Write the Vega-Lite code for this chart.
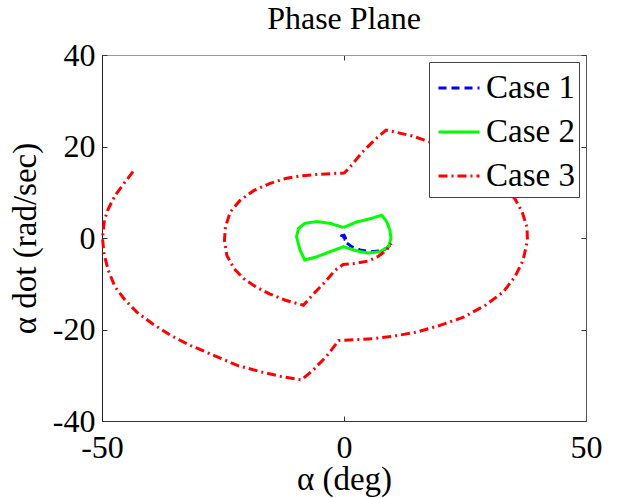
{
  "$schema": "https://vega.github.io/schema/vega-lite/v6.json",
  "width": 484,
  "height": 366,
  "autosize": {"type": "none"},
  "padding": {"left": 102, "top": 55, "right": 35, "bottom": 77},
  "background": "white",
  "title": {"text": "Phase Plane", "font": "Liberation Serif", "fontSize": 32, "fontWeight": "normal", "color": "black", "anchor": "middle", "baseline": "alphabetic", "offset": 0, "dy": 22},
  "config": {
    "view": {"stroke": null},
    "axis": {"grid": false, "labelFont": "Liberation Serif", "labelFontSize": 32, "labelColor": "black", "titleFont": "Liberation Serif", "titleFontSize": 33, "titleFontWeight": "normal", "titleColor": "black", "tickSize": -5, "tickColor": "#333", "labelFlush": false, "labelOverlap": false, "labelExpr": "replace(datum.label, '−', '-')"}
  },
  "data": {"values": [
    {"case": "Case 1", "o": 1, "x": 9.5, "y": -1.5},
    {"case": "Case 1", "o": 2, "x": 8.8, "y": -2.3},
    {"case": "Case 1", "o": 3, "x": 7.4, "y": -2.8},
    {"case": "Case 1", "o": 4, "x": 5.4, "y": -3.0},
    {"case": "Case 1", "o": 5, "x": 3.3, "y": -2.6},
    {"case": "Case 1", "o": 6, "x": 1.6, "y": -1.9},
    {"case": "Case 1", "o": 7, "x": 0.2, "y": -0.8},
    {"case": "Case 1", "o": 8, "x": 0.3, "y": 0.0},
    {"case": "Case 1", "o": 9, "x": 0.0, "y": 0.6},
    {"case": "Case 1", "o": 10, "x": -0.5, "y": 0.5},
    {"case": "Case 1", "o": 11, "x": -0.7, "y": 0.0},
    {"case": "Case 1", "o": 12, "x": -0.4, "y": -0.4},
    {"case": "Case 1", "o": 13, "x": 0.0, "y": -0.3},
    {"case": "Case 1", "o": 14, "x": 0.1, "y": 0.1},
    {"case": "Case 1", "o": 15, "x": -0.2, "y": 0.3},

    {"case": "Case 2", "o": 1, "x": -0.1, "y": 2.3},
    {"case": "Case 2", "o": 2, "x": 2.6, "y": 3.5},
    {"case": "Case 2", "o": 3, "x": 5.4, "y": 4.2},
    {"case": "Case 2", "o": 4, "x": 7.8, "y": 5.0},
    {"case": "Case 2", "o": 5, "x": 8.8, "y": 3.6},
    {"case": "Case 2", "o": 6, "x": 9.5, "y": 1.7},
    {"case": "Case 2", "o": 7, "x": 9.7, "y": -0.1},
    {"case": "Case 2", "o": 8, "x": 9.2, "y": -1.9},
    {"case": "Case 2", "o": 9, "x": 7.4, "y": -3.0},
    {"case": "Case 2", "o": 10, "x": 5.0, "y": -3.3},
    {"case": "Case 2", "o": 11, "x": 2.6, "y": -2.8},
    {"case": "Case 2", "o": 12, "x": -0.1, "y": -1.9},
    {"case": "Case 2", "o": 13, "x": -2.9, "y": -3.0},
    {"case": "Case 2", "o": 14, "x": -5.6, "y": -4.1},
    {"case": "Case 2", "o": 15, "x": -8.1, "y": -4.8},
    {"case": "Case 2", "o": 16, "x": -9.1, "y": -2.6},
    {"case": "Case 2", "o": 17, "x": -9.8, "y": 0.3},
    {"case": "Case 2", "o": 18, "x": -9.4, "y": 2.1},
    {"case": "Case 2", "o": 19, "x": -8.1, "y": 3.2},
    {"case": "Case 2", "o": 20, "x": -5.6, "y": 3.6},
    {"case": "Case 2", "o": 21, "x": -2.9, "y": 3.2},
    {"case": "Case 2", "o": 22, "x": -0.1, "y": 2.3},

    {"case": "Case 3", "o": 1, "x": -43.6, "y": 14.5},
    {"case": "Case 3", "o": 2, "x": -45.2, "y": 12.3},
    {"case": "Case 3", "o": 3, "x": -47.3, "y": 9.3},
    {"case": "Case 3", "o": 4, "x": -48.7, "y": 6.4},
    {"case": "Case 3", "o": 5, "x": -49.5, "y": 3.9},
    {"case": "Case 3", "o": 6, "x": -49.9, "y": 0.0},
    {"case": "Case 3", "o": 7, "x": -49.6, "y": -3.4},
    {"case": "Case 3", "o": 8, "x": -48.7, "y": -7.1},
    {"case": "Case 3", "o": 9, "x": -47.3, "y": -10.7},
    {"case": "Case 3", "o": 10, "x": -45.2, "y": -13.6},
    {"case": "Case 3", "o": 11, "x": -42.8, "y": -16.2},
    {"case": "Case 3", "o": 12, "x": -39.5, "y": -18.8},
    {"case": "Case 3", "o": 13, "x": -35.8, "y": -21.3},
    {"case": "Case 3", "o": 14, "x": -31.7, "y": -23.5},
    {"case": "Case 3", "o": 15, "x": -26.8, "y": -25.7},
    {"case": "Case 3", "o": 16, "x": -21.9, "y": -27.9},
    {"case": "Case 3", "o": 17, "x": -17.0, "y": -29.3},
    {"case": "Case 3", "o": 18, "x": -12.9, "y": -30.3},
    {"case": "Case 3", "o": 19, "x": -8.8, "y": -31.0},
    {"case": "Case 3", "o": 20, "x": -6.4, "y": -28.9},
    {"case": "Case 3", "o": 21, "x": -3.5, "y": -25.7},
    {"case": "Case 3", "o": 22, "x": -1.1, "y": -22.4},
    {"case": "Case 3", "o": 23, "x": 1.0, "y": -22.3},
    {"case": "Case 3", "o": 24, "x": 5.9, "y": -22.0},
    {"case": "Case 3", "o": 25, "x": 10.0, "y": -21.5},
    {"case": "Case 3", "o": 26, "x": 14.9, "y": -20.6},
    {"case": "Case 3", "o": 27, "x": 19.8, "y": -19.1},
    {"case": "Case 3", "o": 28, "x": 24.7, "y": -17.3},
    {"case": "Case 3", "o": 29, "x": 29.2, "y": -14.7},
    {"case": "Case 3", "o": 30, "x": 32.9, "y": -11.8},
    {"case": "Case 3", "o": 31, "x": 35.3, "y": -8.5},
    {"case": "Case 3", "o": 32, "x": 37.0, "y": -4.9},
    {"case": "Case 3", "o": 33, "x": 37.9, "y": -0.5},
    {"case": "Case 3", "o": 34, "x": 37.8, "y": 2.4},
    {"case": "Case 3", "o": 35, "x": 36.8, "y": 5.7},
    {"case": "Case 3", "o": 36, "x": 35.3, "y": 8.6},
    {"case": "Case 3", "o": 37, "x": 33.7, "y": 10.4},
    {"case": "Case 3", "o": 38, "x": 30.4, "y": 13.4},
    {"case": "Case 3", "o": 39, "x": 26.3, "y": 16.3},
    {"case": "Case 3", "o": 40, "x": 21.4, "y": 19.2},
    {"case": "Case 3", "o": 41, "x": 17.7, "y": 21.0},
    {"case": "Case 3", "o": 42, "x": 14.1, "y": 22.3},
    {"case": "Case 3", "o": 43, "x": 8.7, "y": 23.6},
    {"case": "Case 3", "o": 44, "x": 6.7, "y": 21.8},
    {"case": "Case 3", "o": 45, "x": 3.8, "y": 18.8},
    {"case": "Case 3", "o": 46, "x": 1.0, "y": 15.2},
    {"case": "Case 3", "o": 47, "x": 0.0, "y": 14.2},
    {"case": "Case 3", "o": 48, "x": -2.3, "y": 14.1},
    {"case": "Case 3", "o": 49, "x": -5.6, "y": 13.9},
    {"case": "Case 3", "o": 50, "x": -8.8, "y": 13.6},
    {"case": "Case 3", "o": 51, "x": -12.1, "y": 13.0},
    {"case": "Case 3", "o": 52, "x": -15.4, "y": 11.9},
    {"case": "Case 3", "o": 53, "x": -18.6, "y": 10.4},
    {"case": "Case 3", "o": 54, "x": -21.5, "y": 8.2},
    {"case": "Case 3", "o": 55, "x": -23.5, "y": 5.7},
    {"case": "Case 3", "o": 56, "x": -24.5, "y": 2.4},
    {"case": "Case 3", "o": 57, "x": -24.7, "y": -0.5},
    {"case": "Case 3", "o": 58, "x": -24.2, "y": -3.8},
    {"case": "Case 3", "o": 59, "x": -22.7, "y": -6.7},
    {"case": "Case 3", "o": 60, "x": -20.7, "y": -8.9},
    {"case": "Case 3", "o": 61, "x": -18.2, "y": -10.7},
    {"case": "Case 3", "o": 62, "x": -15.4, "y": -12.2},
    {"case": "Case 3", "o": 63, "x": -12.1, "y": -13.6},
    {"case": "Case 3", "o": 64, "x": -8.4, "y": -14.7},
    {"case": "Case 3", "o": 65, "x": -6.3, "y": -12.2},
    {"case": "Case 3", "o": 66, "x": -3.9, "y": -9.6},
    {"case": "Case 3", "o": 67, "x": -1.9, "y": -7.1},
    {"case": "Case 3", "o": 68, "x": -0.2, "y": -5.8},
    {"case": "Case 3", "o": 69, "x": 2.2, "y": -5.6},
    {"case": "Case 3", "o": 70, "x": 5.1, "y": -5.0},
    {"case": "Case 3", "o": 71, "x": 7.1, "y": -4.0},
    {"case": "Case 3", "o": 72, "x": 8.7, "y": -2.7},
    {"case": "Case 3", "o": 73, "x": 9.8, "y": -1.2}
  ]},
  "layer": [
    {
      "mark": {"type": "line", "strokeWidth": 3},
      "encoding": {
        "x": {"field": "x", "type": "quantitative", "scale": {"domain": [-50, 50], "nice": false, "zero": false},
              "axis": {"orient": "bottom", "values": [-50, 0, 50], "title": "α (deg)", "domainColor": "#333", "labelPadding": 16, "titlePadding": 0}},
        "y": {"field": "y", "type": "quantitative", "scale": {"domain": [-40, 40], "nice": false, "zero": false},
              "axis": {"orient": "left", "values": [-40, -20, 0, 20, 40], "title": "α dot (rad/sec)", "domainColor": "#222", "labelPadding": 12, "titlePadding": 10}},
        "order": {"field": "o", "type": "quantitative"},
        "color": {"field": "case", "type": "nominal", "title": null,
                  "scale": {"domain": ["Case 1", "Case 2", "Case 3"], "range": ["#0000ff", "#00ff00", "#ff0000"]},
                  "legend": {"orient": "none", "legendX": 327, "legendY": 7, "strokeColor": "#444", "fillColor": "white", "padding": 4, "symbolOffset": 4, "symbolType": "stroke", "symbolSize": 1681, "symbolStrokeWidth": 3, "labelFont": "Liberation Serif", "labelFontSize": 33, "labelColor": "black", "labelOffset": 5, "rowPadding": 5, "labelLimit": 300}},
        "strokeDash": {"field": "case", "type": "nominal", "title": null,
                  "scale": {"domain": ["Case 1", "Case 2", "Case 3"], "range": [[8, 5], [1, 0], [9, 4, 2, 4]]}}
      }
    },
    {
      "mark": {"type": "line", "opacity": 0},
      "encoding": {
        "x": {"field": "x", "type": "quantitative", "scale": {"domain": [-50, 50], "nice": false, "zero": false},
              "axis": {"orient": "top", "values": [-50, 0, 50], "labels": false, "title": null, "domainColor": "#999"}},
        "y": {"field": "y", "type": "quantitative", "scale": {"domain": [-40, 40], "nice": false, "zero": false},
              "axis": {"orient": "right", "values": [-40, -20, 0, 20, 40], "labels": false, "title": null, "domainColor": "#555"}},
        "detail": {"field": "case", "type": "nominal"},
        "order": {"field": "o", "type": "quantitative"}
      }
    }
  ],
  "resolve": {"axis": {"x": "independent", "y": "independent"}}
}
